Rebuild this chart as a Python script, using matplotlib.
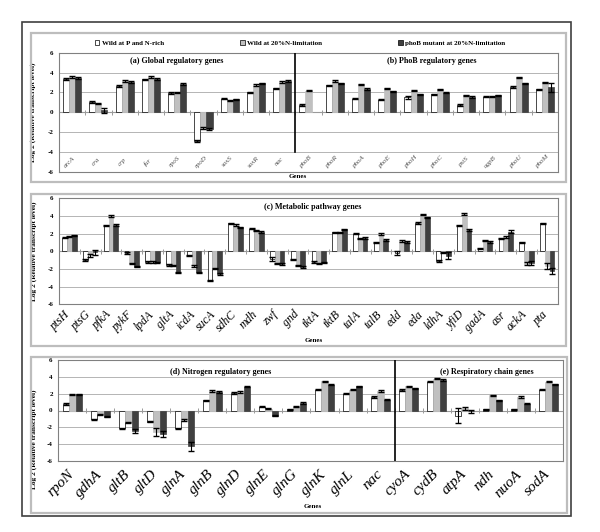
import numpy as np
import matplotlib
matplotlib.use('Agg')
import matplotlib.pyplot as plt
from matplotlib.patches import Rectangle, Patch

plt.rcParams['font.family'] = ['Liberation Serif', 'DejaVu Serif']

# ── data ─────────────────────────────────────────────────────────
genes_ab = ['arcA', 'cra', 'crp', 'fur', 'rpoS', 'rpoD', 'soxS', 'soxR', 'nac',
            'phoB', 'phoR', 'phoA', 'phoE', 'phoH', 'phoC', 'pstS', 'ugpB', 'phoU', 'phoM']
wild_rich_ab = [3.33, 1.0, 2.63, 3.3, 1.93, -2.93, 1.37, 2.0, 2.4,
                0.7, 2.7, 1.37, 1.27, 1.5, 1.8, 0.7, 1.57, 2.53, 2.3]
wild_lim_ab = [3.53, 0.87, 3.13, 3.53, 2.0, -1.6, 1.2, 2.77, 3.03,
               2.17, 3.13, 2.8, 2.4, 2.17, 2.3, 1.7, 1.57, 3.5, 3.0]
mutant_ab = [3.47, 0.2, 3.07, 3.33, 2.87, -1.67, 1.3, 2.9, 3.17,
             np.nan, 2.9, 2.33, 2.1, 1.8, 1.97, 1.53, 1.7, 2.9, 2.5]
err_rich_ab = [0.08] * 13 + [0.15] + [0.08] * 5
err_lim_ab = [0.08] * 19
err_mut_ab = [0.08, 0.25] + [0.08] * 16 + [0.45]

genes_c = ['ptsH', 'ptsG', 'pfkA', 'pykF', 'lpdA', 'gltA', 'icdA', 'sucA', 'sdhC', 'mdh',
           'zwf', 'gnd', 'tktA', 'tktB', 'talA', 'talB', 'edd', 'eda', 'ldhA', 'yfiD',
           'gadA', 'asr', 'ackA', 'pta']
wild_rich_c = [1.55, -1.0, 2.95, -0.2, -1.22, -1.55, -0.48, -3.33, 3.15, 2.55,
               -0.85, -0.93, -1.2, 2.15, 2.0, 1.0, -0.2, 3.19, -1.1, 2.89,
               0.3, 1.48, 1.0, 3.15]
wild_lim_c = [1.7, -0.45, 3.98, -1.37, -1.22, -1.6, -1.67, -1.96, 3.0, 2.37,
              -1.41, -1.6, -1.35, 2.15, 1.45, 1.96, 1.18, 4.15, -0.15, 4.22,
              1.22, 1.6, -1.41, -1.67]
mutant_c = [1.82, -0.1, 2.96, -1.74, -1.25, -2.37, -2.37, -2.59, 2.7, 2.18,
            -1.44, -1.78, -1.3, 2.5, 1.5, 1.3, 1.04, 3.85, -0.5, 2.4,
            1.04, 2.22, -1.3, -2.22]
err_rich_c = [0.08, 0.1] + [0.08] * 8 + [0.25] + [0.08] * 5 + [0.2] + [0.08] * 7
err_lim_c = [0.08, 0.15] + [0.08] * 20 + [0.15, 0.3]
err_mut_c = [0.08, 0.3] + [0.08] * 16 + [0.4, 0.08, 0.08, 0.2, 0.2, 0.35]

genes_de = ['rpoN', 'gdhA', 'gltB', 'gltD', 'glnA', 'glnB', 'glnD', 'glnE', 'glnG',
            'glnK', 'glnL', 'nac', 'cyoA', 'cydB', 'atpA', 'ndh', 'nuoA', 'sodA']
wild_rich_de = [0.79, -1.06, -2.12, -1.33, -2.12, 1.22, 2.1, 0.44, 0.12,
                2.5, 2.0, 1.6, 2.43, 3.45, -0.63, 0.12, 0.12, 2.5]
wild_lim_de = [1.92, -0.47, -1.41, -2.6, -1.14, 2.33, 2.2, 0.2, 0.44,
               3.5, 2.5, 2.33, 2.9, 3.8, 0.24, 1.8, 1.61, 3.45]
mutant_de = [1.92, -0.75, -2.43, -2.85, -4.3, 2.2, 2.86, -0.63, 0.9,
             3.1, 2.9, 1.3, 2.63, 3.65, -0.1, 1.22, 0.82, 3.14]
err_rich_de = [0.08] * 14 + [0.9] + [0.08] * 3
err_lim_de = [0.08] * 3 + [0.45] + [0.08] * 10 + [0.15] + [0.08] * 3
err_mut_de = [0.08, 0.08, 0.2, 0.35, 0.5] + [0.08] * 9 + [0.15] + [0.08] * 3

series_labels = ['Wild at P and N-rich', 'Wild at 20%N-limitation',
                 'phoB mutant at 20%N-limitation']
COLS = ['white', '#C0C0C0', '#404040']

fig = plt.figure(figsize=(6.0, 5.32), dpi=100, facecolor='white')
W, H = 600.0, 532.0


def fbox(x0, y0, x1, y1):
    # pixel box (top-left origin) -> figure fraction [l, b, w, h]
    return [x0 / W, 1 - y1 / H, (x1 - x0) / W, (y1 - y0) / H]


# frames
for (x0, y0, x1, y1), ec, lw in [((22, 22, 571, 516), '#404040', 1.2),
                                 ((31, 33, 566, 182), '#BDBDBD', 1.6),
                                 ((31, 194, 566, 346), '#BDBDBD', 1.6),
                                 ((31, 357, 567, 513), '#BDBDBD', 1.6)]:
    l, b, w, h = fbox(x0, y0, x1, y1)
    fig.patches.append(Rectangle((l, b), w, h, transform=fig.transFigure,
                                 fill=False, ec=ec, lw=lw))


def panel(box, genes, vals, errs, capsize, label_mode, fs_gene):
    ax = fig.add_axes(fbox(*box))
    n = len(genes)
    x = np.arange(n)
    wb = 0.23
    for k, (v, e, c) in enumerate(zip(vals, errs, COLS)):
        ax.bar(x + (k - 1) * wb, v, wb, color=c,
               edgecolor='black' if k == 0 else c, linewidth=0.5, zorder=3)
        ax.errorbar(x + (k - 1) * wb, v, yerr=e, fmt='none', ecolor='black',
                    elinewidth=0.8, capsize=capsize, capthick=1.0, zorder=4)
    ax.set_xlim(-0.5, n - 0.5)
    ax.set_ylim(-6, 6)
    ax.set_yticks([-6, -4, -2, 0, 2, 4, 6])
    ax.set_yticklabels(['-6', '-4', '-2', '0', '2', '4', '6'],
                       fontsize=5, fontweight='bold')
    ax.tick_params(axis='y', length=0, pad=4)
    ax.grid(axis='y', color='#A8A8A8', lw=0.6, zorder=0)
    ax.axhline(0, color='#9A9A9A', lw=0.8, zorder=2)
    ax.vlines(x[:-1] + 0.5, -0.25, 0.25, color='#9A9A9A', lw=0.7, zorder=2)
    for s in ax.spines.values():
        s.set_color('#808080')
        s.set_linewidth(0.8)
    if label_mode == 'inside':
        ax.set_xticks([])
        for i, g in enumerate(genes):
            ax.text(i - 0.1, -5.0, g, rotation=45, ha='center', va='center',
                    fontsize=fs_gene, style='italic', color='#505050')
    else:
        ax.set_xticks(x + 0.15)
        ax.set_xticklabels(genes, rotation=45, ha='right', va='top',
                           rotation_mode='default', fontsize=fs_gene,
                           style='italic')
        ax.tick_params(axis='x', length=0, pad=label_mode)
    return ax


ax1 = panel((59, 52.7, 558, 171.7), genes_ab,
            [wild_rich_ab, wild_lim_ab, mutant_ab],
            [err_rich_ab, err_lim_ab, err_mut_ab], 2.5, 'inside', 5)
ax1.plot([8.5, 8.5], [6, -4], color='black', lw=1.2, zorder=5)
ax1.text(4, 5.2, '(a) Global regulatory genes', ha='center', va='center',
         fontsize=5.8, fontweight='bold')
ax1.text(13.7, 5.2, '(b) PhoB regulatory genes', ha='center', va='center',
         fontsize=5.8, fontweight='bold')
ax1.set_ylabel('Log 2 (Relative transcript level)', fontsize=5.3, fontweight='bold')
ax1.yaxis.set_label_coords(-0.046, 0.5)

ax2 = panel((59, 198.3, 557.7, 304.3), genes_c,
            [wild_rich_c, wild_lim_c, mutant_c],
            [err_rich_c, err_lim_c, err_mut_c], 2.0, 3, 8.5)
ax2.text(11.7, 5.0, '(c) Metabolic pathway genes', ha='center', va='center',
         fontsize=5.8, fontweight='bold')
ax2.set_ylabel('Log 2 (Relative transcript level)', fontsize=5.3, fontweight='bold')
ax2.yaxis.set_label_coords(-0.044, 0.5)

ax3 = panel((58.3, 360.3, 562.7, 460.7), genes_de,
            [wild_rich_de, wild_lim_de, mutant_de],
            [err_rich_de, err_lim_de, err_mut_de], 2.5, 5, 11)
ax3.plot([11.5, 11.5], [6, -6], color='black', lw=1.2, zorder=5)
ax3.text(5.3, 4.6, '(d) Nitrogen regulatory genes', ha='center', va='center',
         fontsize=5.8, fontweight='bold')
ax3.text(14.8, 4.6, '(e) Respiratory chain genes', ha='center', va='center',
         fontsize=5.8, fontweight='bold')
ax3.set_ylabel('Log 2 (Relative transcript level)', fontsize=5.3, fontweight='bold')
ax3.yaxis.set_label_coords(-0.042, 0.21)

for xp, yp in [(298, 177), (314, 341), (313, 507)]:
    fig.text(xp / W, 1 - yp / H, 'Genes', ha='center', va='center',
             fontsize=5, fontweight='bold')

handles = [Patch(facecolor=c, edgecolor='black', lw=0.5) for c in COLS]
fig.legend(handles, series_labels, loc='center', ncol=3,
           bbox_to_anchor=(0.5, 1 - 43 / H), frameon=False,
           prop={'size': 5, 'weight': 'bold'}, handlelength=0.7,
           handleheight=0.7, handletextpad=0.3, columnspacing=11)

fig.savefig('out.png', dpi=100, facecolor='white')
